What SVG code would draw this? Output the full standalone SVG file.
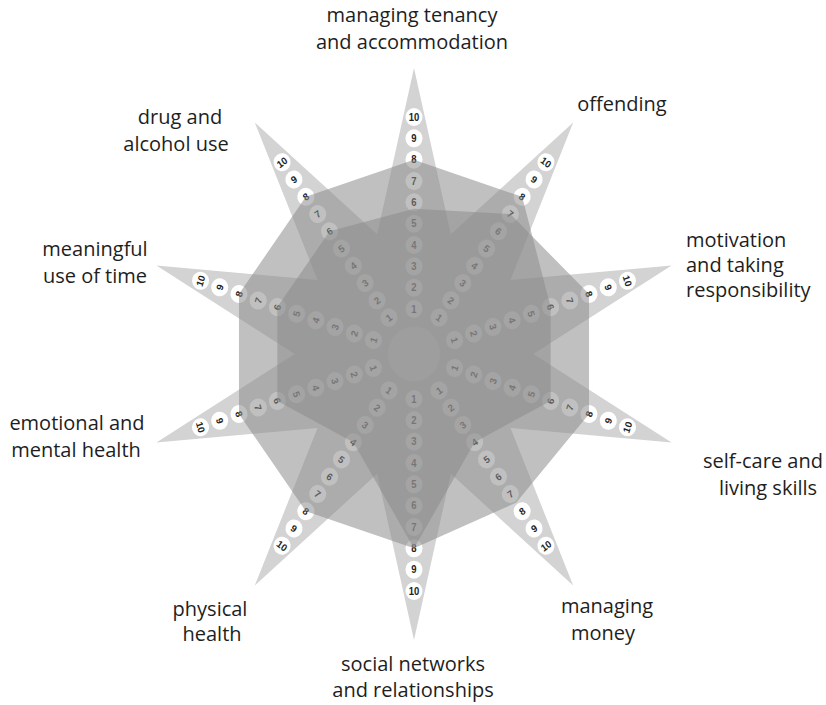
<svg xmlns="http://www.w3.org/2000/svg" xmlns:xlink="http://www.w3.org/1999/xlink" width="826" height="705" viewBox="0 0 826 705">
  <style>
    .label { font-family: "Open Sans", "Liberation Sans", sans-serif; font-size: 20px; fill: #1e1e1e; text-anchor: middle; }
    .label.left { text-anchor: start; }
    .star { fill: #d3d3d3; }
    .score { fill: #8c8c8c; fill-opacity: 0.55; }
    .badge circle { fill: #ffffff; }
    .badge text { font-family: "Liberation Sans", Arial, sans-serif; font-size: 10px; font-weight: bold; fill: #222222; text-anchor: middle; }
  </style>
  <defs>
    <!-- ten numbered badges along one spoke, pointing up (local coords, centre at origin) -->
    <g id="badges-up" class="badge">
      <g transform="translate(0,-45)"><circle r="9"/><text y="3.6">1</text></g>
      <g transform="translate(0,-66.3)"><circle r="9"/><text y="3.6">2</text></g>
      <g transform="translate(0,-87.7)"><circle r="9"/><text y="3.6">3</text></g>
      <g transform="translate(0,-109)"><circle r="9"/><text y="3.6">4</text></g>
      <g transform="translate(0,-130.3)"><circle r="9"/><text y="3.6">5</text></g>
      <g transform="translate(0,-151.7)"><circle r="9"/><text y="3.6">6</text></g>
      <g transform="translate(0,-173)"><circle r="9"/><text y="3.6">7</text></g>
      <g transform="translate(0,-194.3)"><circle r="9"/><text y="3.6">8</text></g>
      <g transform="translate(0,-215.7)"><circle r="9"/><text y="3.6">9</text></g>
      <g transform="translate(0,-237)"><circle r="9"/><text y="3.6">10</text></g>
    </g>
    <!-- same badges with the digits turned round, for spokes on the lower half -->
    <g id="badges-down" class="badge">
      <g transform="translate(0,-45)"><circle r="9"/><text y="3.6" transform="rotate(180)">1</text></g>
      <g transform="translate(0,-66.3)"><circle r="9"/><text y="3.6" transform="rotate(180)">2</text></g>
      <g transform="translate(0,-87.7)"><circle r="9"/><text y="3.6" transform="rotate(180)">3</text></g>
      <g transform="translate(0,-109)"><circle r="9"/><text y="3.6" transform="rotate(180)">4</text></g>
      <g transform="translate(0,-130.3)"><circle r="9"/><text y="3.6" transform="rotate(180)">5</text></g>
      <g transform="translate(0,-151.7)"><circle r="9"/><text y="3.6" transform="rotate(180)">6</text></g>
      <g transform="translate(0,-173)"><circle r="9"/><text y="3.6" transform="rotate(180)">7</text></g>
      <g transform="translate(0,-194.3)"><circle r="9"/><text y="3.6" transform="rotate(180)">8</text></g>
      <g transform="translate(0,-215.7)"><circle r="9"/><text y="3.6" transform="rotate(180)">9</text></g>
      <g transform="translate(0,-237)"><circle r="9"/><text y="3.6" transform="rotate(180)">10</text></g>
    </g>
  </defs>

  <rect width="826" height="705" fill="#ffffff"/>

  <g id="star" transform="translate(414,354) scale(0.947,1)">
    <!-- ten-pointed star -->
    <polygon class="star" points="0,-286 38.9,-119.8 168.1,-231.4 101.9,-74.1 272,-88.4 126,0 272,88.4 101.9,74.1 168.1,231.4 38.9,119.8 0,286 -38.9,119.8 -168.1,231.4 -101.9,74.1 -272,88.4 -126,0 -272,-88.4 -101.9,-74.1 -168.1,-231.4 -38.9,-119.8"/>

    <!-- spokes with their 1..10 scales -->
    <g id="spoke-tenancy" transform="rotate(0)"><use xlink:href="#badges-up"/></g>
    <g id="spoke-offending" transform="rotate(36)"><use xlink:href="#badges-up"/></g>
    <g id="spoke-motivation" transform="rotate(72)"><use xlink:href="#badges-up"/></g>
    <g id="spoke-selfcare" transform="rotate(108)"><use xlink:href="#badges-down"/></g>
    <g id="spoke-money" transform="rotate(144)"><use xlink:href="#badges-down"/></g>
    <g id="spoke-social" transform="rotate(180)"><use xlink:href="#badges-down"/></g>
    <g id="spoke-physical" transform="rotate(216)"><use xlink:href="#badges-down"/></g>
    <g id="spoke-emotional" transform="rotate(252)"><use xlink:href="#badges-down"/></g>
    <g id="spoke-meaningful" transform="rotate(288)"><use xlink:href="#badges-up"/></g>
    <g id="spoke-drug" transform="rotate(324)"><use xlink:href="#badges-up"/></g>

    <circle cx="0" cy="0" r="27.5" fill="#e2e2e2"/>

    <!-- two sets of scores plotted over the star -->
    <g id="scores">
      <polygon class="score" points="0,-194.3 114.2,-157.2 144.3,-46.9 144.3,46.9 64.1,88.2 0,194.3 -114.2,157.2 -184.8,60 -184.8,-60 -114.2,-157.2"/>
      <polygon class="score" points="0,-145.3 101.7,-140 184.8,-60 184.8,60 108,148.6 0,194.3 -64.1,88.2 -144.3,46.9 -144.3,-46.9 -89.2,-122.7"/>
    </g>
  </g>

  <g id="labels">
    <g id="label-tenancy"><text class="label" x="412" y="22">managing tenancy</text><text class="label" x="412" y="49">and accommodation</text></g>
    <g id="label-offending"><text class="label" x="622" y="111">offending</text></g>
    <g id="label-motivation"><text class="label left" x="686" y="247">motivation</text><text class="label left" x="686" y="272">and taking</text><text class="label left" x="686" y="297">responsibility</text></g>
    <g id="label-selfcare"><text class="label" x="763" y="468">self-care and</text><text class="label" x="768" y="495">living skills</text></g>
    <g id="label-money"><text class="label" x="607" y="613">managing</text><text class="label" x="603" y="640">money</text></g>
    <g id="label-social"><text class="label" x="413" y="671">social networks</text><text class="label" x="413" y="697">and relationships</text></g>
    <g id="label-physical"><text class="label" x="210" y="616">physical</text><text class="label" x="212" y="641">health</text></g>
    <g id="label-emotional"><text class="label" x="77" y="430">emotional and</text><text class="label" x="76" y="457">mental health</text></g>
    <g id="label-meaningful"><text class="label" x="95" y="256">meaningful</text><text class="label" x="95" y="283">use of time</text></g>
    <g id="label-drug"><text class="label" x="180" y="124">drug and</text><text class="label" x="176" y="151">alcohol use</text></g>
  </g>
</svg>
